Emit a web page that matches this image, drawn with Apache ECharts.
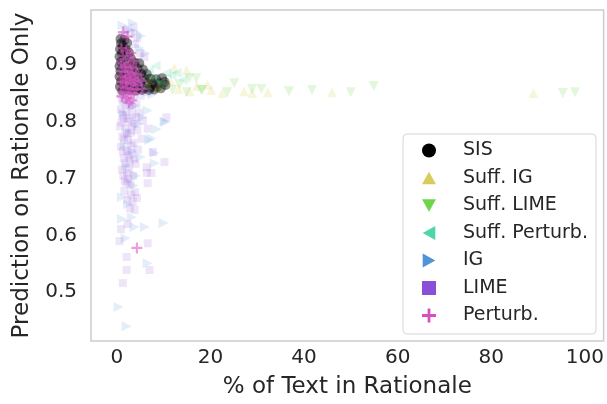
<!DOCTYPE html>
<html>
<head>
<meta charset="utf-8">
<script src="https://cdn.jsdelivr.net/npm/echarts@6/dist/echarts.min.js"></script>
<style>
  html, body { margin: 0; padding: 0; background: #fff; }
  #chart { width: 607px; height: 404px; }
</style>
</head>
<body>
<div id="chart"></div>
<script>
// tick labels
var xTicks = [0, 20, 40, 60, 80, 100]
var yTicks = [0.5, 0.6, 0.7, 0.8, 0.9]

var seriesNames = ['SIS', 'Suff. IG', 'Suff. LIME', 'Suff. Perturb.', 'IG', 'LIME', 'Perturb.']

// [% of text in rationale, prediction on rationale only]
var sisPoints = [
  [0.8,0.946],[1.6,0.944],[0.9,0.938],[2.2,0.939],[1.3,0.932],[0.7,0.928],[2.0,0.927],[1.1,0.921],
  [2.6,0.922],[0.6,0.915],[1.7,0.914],[3.0,0.912],[0.9,0.906],[2.3,0.905],[3.8,0.904],[4.8,0.903],
  [0.6,0.898],[1.5,0.897],[3.1,0.896],[4.4,0.894],[5.6,0.892],[0.8,0.889],[2.2,0.888],[3.6,0.886],
  [5.2,0.885],[6.4,0.884],[0.6,0.880],[1.6,0.879],[2.9,0.878],[4.3,0.877],[5.9,0.876],[7.2,0.876],
  [8.4,0.875],[9.7,0.877],[0.9,0.871],[2.4,0.870],[3.7,0.869],[5.0,0.868],[6.6,0.868],[7.8,0.867],
  [9.1,0.868],[10.2,0.870],[0.7,0.862],[1.8,0.861],[3.2,0.860],[4.6,0.860],[5.8,0.859],[7.1,0.860],
  [8.6,0.861],[10.4,0.865],[1.2,0.855],[2.6,0.856],[4.0,0.855],[5.4,0.856],[6.9,0.856],[8.0,0.857],
  [9.4,0.859]
]
var suffIgPoints = [
  [6.5,0.866],[8.8,0.860],[11.5,0.872],[12.3,0.895],[14.9,0.891],[13.2,0.858],[15.6,0.854],[17.1,0.863],
  [19.4,0.866],[20.2,0.856],[22.6,0.851],[27.2,0.854],[28.9,0.851],[32.3,0.852],[46.0,0.852],[89.0,0.851]
]
var suffLimePoints = [
  [7.2,0.872],[9.5,0.864],[11.9,0.856],[13.4,0.866],[14.9,0.852],[15.5,0.877],[17.0,0.877],[18.0,0.856],
  [18.3,0.856],[23.6,0.852],[25.1,0.868],[28.9,0.858],[30.9,0.858],[36.8,0.854],[41.7,0.856],[50.0,0.852],
  [54.9,0.863],[95.3,0.851],[97.9,0.852]
]
var suffPerturbPoints = [
  [6.9,0.890],[8.1,0.877],[8.3,0.899],[9.2,0.869],[10.6,0.886],[11.7,0.882],[12.8,0.886],[14.1,0.874]
]
var igPoints = [
  [1.2,0.970],[2.6,0.962],[3.4,0.974],[4.1,0.958],[5.2,0.951],[4.8,0.930],[6.1,0.921],[2.9,0.912],
  [1.5,0.892],[5.8,0.862],[7.6,0.848],[2.3,0.842],[3.9,0.829],[6.6,0.820],[1.4,0.815],[5.5,0.808],
  [10.4,0.800],[10.2,0.800],[4.6,0.796],[8.5,0.787],[2.8,0.781],[7.4,0.771],[7.0,0.768],[1.7,0.760],
  [3.3,0.748],[8.1,0.745],[5.1,0.738],[8.1,0.727],[2.0,0.722],[4.1,0.705],[3.6,0.688],[1.1,0.667],
  [2.4,0.655],[3.2,0.632],[1.1,0.629],[10.0,0.622],[3.8,0.615],[6.0,0.615],[1.9,0.595],[6.6,0.551],
  [0.4,0.474],[2.1,0.440]
]
var limePoints = [
  [1.8,0.962],[2.9,0.956],[3.6,0.966],[4.4,0.948],[1.2,0.951],[5.0,0.921],[5.9,0.914],[3.9,0.937],
  [1.0,0.905],[2.5,0.893],[3.7,0.881],[4.9,0.874],[1.6,0.866],[2.9,0.858],[0.8,0.850],[2.2,0.845],
  [3.6,0.842],[5.1,0.846],[6.4,0.852],[1.4,0.836],[2.7,0.829],[4.2,0.831],[0.9,0.822],[2.0,0.818],
  [3.3,0.812],[4.8,0.816],[1.5,0.806],[2.6,0.800],[3.8,0.797],[5.6,0.802],[10.6,0.808],[0.7,0.792],
  [1.9,0.787],[3.0,0.781],[4.4,0.785],[6.6,0.788],[1.2,0.774],[2.4,0.768],[3.6,0.763],[5.3,0.770],
  [7.7,0.747],[0.9,0.756],[2.1,0.750],[3.2,0.744],[4.5,0.751],[1.5,0.736],[2.8,0.731],[4.0,0.726],
  [6.4,0.720],[10.2,0.729],[1.1,0.716],[2.2,0.710],[3.5,0.705],[6.4,0.710],[7.4,0.710],[1.7,0.696],
  [2.9,0.690],[6.6,0.692],[2.1,0.692],[1.6,0.678],[3.9,0.676],[4.3,0.666],[3.4,0.659],[2.8,0.648],
  [3.8,0.645],[2.3,0.620],[0.9,0.611],[0.6,0.590],[6.6,0.586],[2.1,0.562],[2.1,0.539],[7.0,0.539],
  [1.3,0.516],
  [1.1,0.840],[1.9,0.832],[3.2,0.826],[1.3,0.812],[2.3,0.806],[4.1,0.808],[1.0,0.799],[3.3,0.792],
  [2.2,0.779],[1.6,0.771],[3.1,0.758],[1.3,0.748],[2.5,0.741],[3.7,0.735],[1.9,0.727],[2.6,0.718],
  [1.4,0.705],[2.4,0.700],[3.1,0.672],[2.3,0.663]
]
var perturbPoints = [
  [1.4,0.958],[2.3,0.950],[1.0,0.930],[2.1,0.926],[3.0,0.921],[1.3,0.916],[2.5,0.911],[3.6,0.907],
  [0.9,0.903],[1.9,0.900],[3.0,0.897],[4.1,0.894],[1.6,0.896],[1.2,0.890],[2.4,0.888],[3.4,0.885],
  [4.6,0.883],[2.8,0.882],[0.8,0.880],[1.8,0.878],[2.9,0.876],[4.0,0.874],[2.0,0.873],[5.2,0.872],
  [3.8,0.871],[1.3,0.870],[2.3,0.868],[3.4,0.866],[4.5,0.864],[0.9,0.862],[1.9,0.860],[3.0,0.858],
  [4.1,0.857],[5.4,0.858],[1.4,0.853],[2.5,0.851],[3.6,0.849],[1.1,0.845],[2.1,0.842],[3.1,0.838],
  [2.6,0.834],[4.3,0.578]
]

var FONT = 'DejaVu Sans'
var TEXT = '#262626'
var MARK = {
  plus: 'path://M4,0H6V4H10V6H6V10H4V6H0V4H4Z',
  up: 'path://M5,0L10,9L0,9Z',
  down: 'path://M0,0L10,0L5,9Z',
  left: 'path://M0,5L9,0L9,10Z',
  right: 'path://M0,0L9,5L0,10Z'
}

function scatter(name, data, color, symbol, size, opacity) {
  return {
    name: name,
    type: 'scatter',
    data: data,
    symbol: symbol,
    symbolSize: size,
    itemStyle: { color: color, opacity: opacity },
    emphasis: { disabled: true }
  }
}

var legendIcons = ['circle', MARK.up, MARK.down, MARK.left, MARK.right, 'rect', MARK.plus]

var chart = echarts.init(document.getElementById('chart'), null, { renderer: 'canvas' })
chart.setOption({
  animation: false,
  backgroundColor: '#ffffff',
  textStyle: { fontFamily: FONT, color: TEXT },
  grid: {
    left: 91, right: 2, top: 10, bottom: 63,
    show: true,
    borderColor: '#cccccc',
    borderWidth: 1.5,
    backgroundColor: 'transparent'
  },
  xAxis: {
    type: 'value',
    min: -5.5,
    max: 104,
    name: '% of Text in Rationale',
    nameLocation: 'middle',
    nameGap: 35,
    nameTextStyle: { fontFamily: FONT, fontSize: 23, color: TEXT },
    axisLine: { show: false },
    axisTick: { show: false },
    splitLine: { show: false },
    axisLabel: {
      customValues: xTicks,
      margin: 7,
      fontFamily: FONT,
      fontSize: 20,
      color: TEXT
    }
  },
  yAxis: {
    type: 'value',
    min: 0.414,
    max: 0.997,
    name: 'Prediction on Rationale Only',
    nameLocation: 'middle',
    nameGap: 57,
    nameTextStyle: { fontFamily: FONT, fontSize: 23, color: TEXT },
    axisLine: { show: false },
    axisTick: { show: false },
    splitLine: { show: false },
    axisLabel: {
      customValues: yTicks,
      margin: 14,
      fontFamily: FONT,
      fontSize: 20,
      color: TEXT,
      formatter: function (v) { return v.toFixed(1) }
    }
  },
  legend: {
    orient: 'vertical',
    left: 403,
    top: 134,
    padding: [7, 8, 9, 19],
    itemWidth: 14,
    itemHeight: 14,
    itemGap: 8.5,
    borderColor: '#d6d6d6',
    borderWidth: 1,
    borderRadius: 4,
    backgroundColor: '#ffffff',
    itemStyle: { opacity: 1 },
    textStyle: { fontFamily: FONT, fontSize: 19, lineHeight: 18, color: TEXT, padding: [0, 0, 0, 22] },
    data: seriesNames.map(function (n, i) { return { name: n, icon: legendIcons[i] } })
  },
  series: [
    scatter(seriesNames[0], sisPoints, '#000000', 'circle', 10, 0.45),
    scatter(seriesNames[1], suffIgPoints, '#d8cc5a', MARK.up, 10, 0.2),
    scatter(seriesNames[2], suffLimePoints, '#6ed64a', MARK.down, 10, 0.2),
    scatter(seriesNames[3], suffPerturbPoints, '#4fd6a8', MARK.left, 10, 0.2),
    scatter(seriesNames[4], igPoints, '#4f94d8', MARK.right, 10, 0.16),
    scatter(seriesNames[5], limePoints, '#8a4fd8', 'rect', 8, 0.15),
    scatter(seriesNames[6], perturbPoints, '#d84fc0', MARK.plus, 11, 0.55)
  ]
})
</script>
</body>
</html>
